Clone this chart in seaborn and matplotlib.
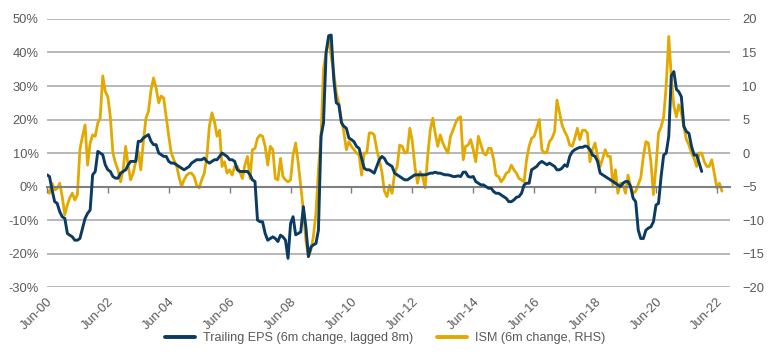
import matplotlib
matplotlib.use("Agg")
import matplotlib.pyplot as plt
import matplotlib.dates as mdates
from matplotlib.ticker import FuncFormatter
import pandas as pd
import seaborn as sns

# Trailing EPS, 6m change lagged 8m (%), monthly from Jun-00 (left axis)
eps_change = [
    3.5, 3, -1, -4.5, -5, -7.5, -9, -9.5, -14, -14.5, -15, -16, -16, -15.5, -12.5, -9.5, -8, -7,
    3.5, 4.5, 10.5, 10, 9.5, 6.5, 5, 4.5, 3, 2.5, 2.5, 4, 4.5, 5, 6.5, 7.5, 7.5, 7.5,
    13.5, 13.5, 14.5, 15, 15.5, 13.5, 12.5, 12.5, 10, 9.5, 9, 9, 7.5, 7, 7, 6.5, 6, 5.5,
    5, 5.5, 6, 7, 7.5, 8, 8, 8, 8.5, 7.5, 7, 7.5, 8, 8, 9, 10, 9.5, 9,
    8, 8, 7.5, 5, 4.5, 4.5, 4.5, 4.5, 3.5, 2, 1.5, -10, -10.5, -10.5, -14, -16, -15.5, -15,
    -15.5, -16.4, -14.5, -15, -16, -21.4, -11, -9, -14.4, -14, -13.5, -6, -12, -20.9, -18, -17.4, -17, -13,
    15, 19, 40, 45, 45.2, 32, 25, 24.4, 19, 18, 17.4, 14.5, 14, 13.4, 12, 11.4, 8.4, 5.5,
    5, 5, 4.5, 4, 6, 8, 9, 8.4, 7, 6.5, 6, 4, 3.5, 3, 2.5, 2, 2, 2.5,
    3, 3.5, 3.5, 3.5, 3.5, 3.5, 3.7, 4, 4, 4.3, 4, 4, 3.7, 3.5, 3.5, 3.3, 3, 3,
    3.2, 3, 4.3, 4.3, 3, 2.8, 3, 1.5, 1, 0.5, 0.5, 0, -0.5, -0.5, -1.5, -2, -2, -2.5,
    -3, -3.5, -4.5, -4.5, -4, -3.2, -3, -2, 0.5, 1, 1, 5, 5.5, 6, 7, 7.5, 7, 6.5,
    7, 6.5, 6, 5, 5, 5.5, 6.5, 6, 9, 10.4, 11, 11.4, 11.7, 11.7, 12.1, 11.9, 11, 9.4,
    9, 7.5, 4, 3.5, 3, 2.5, 2, 1.5, 1, 0.5, 0, 1, 1.5, 1.5, 0, -3.5, -4.5, -13,
    -15.5, -15.5, -13, -12.4, -12, -10.5, -5.5, -5, 3, 9.4, 10, 15, 33, 34.3, 29, 28.3, 26.8, 18,
    16.4, 15.9, 12, 9.4, 9.4, 7, 4.5,
]

# ISM, 6m change, monthly from Jun-00 (right axis)
ism_change = [
    -5.5, -6, -4.5, -5.5, -5.3, -4.5, -6.5, -9.2, -7.7, -6.7, -6, -7, -6.2, 0.5, 2.5, 4.2, -1.8, 1.5,
    2.7, 2.5, 4.5, 5.2, 11.5, 9.2, 8.4, 5.4, 0, -1.5, -2.5, -4.3, -2.5, 1, -2, -4, -3, -1.3,
    0.2, -2.5, 1.7, 5.2, 6.2, 9.4, 11.2, 9.7, 7.5, 8.5, 8.2, 5.4, 2.5, 0, -1, -1.8, -3.5, -5,
    -4, -3.3, -3, -3, -3.5, -4.8, -5.2, -4, -3, -0.5, 4, 6, 4.7, 2.5, 3.4, -2, -1.3, -3,
    -2.5, -3.3, -2, -2, -2.8, -3.8, -1.8, -0.5, -3.8, 0.5, 0.7, 2.2, 2.7, 2.5, 1, -1.8, 1, 0.5,
    -3.8, -4, -0.8, -3.5, -4, -4.3, -4, -0.3, 1.5, -1.5, -5, -8.5, -13, -15.4, -14.4, -12.5, -9, -2.5,
    2.5, 12.5, 15, 17.1, 14.4, 12, 9, 7.4, 5, 3.2, 0.5, 1.7, 1, 0.5, 0, -0.3, -3.3, 0,
    0, 3, 3, 2.7, 0.5, -1, -2.8, -5.7, -6.5, -4.8, -6, -3, -2, 1.2, 1, 0, 0.2, 3.7,
    1.7, -2, -4.5, -2.8, -3.5, -5.2, -0.5, 3.4, 5.2, 3, 1, 2.7, 1.5, 0.7, 0, 2.5, 3.4, 4.5,
    5.2, 5.4, -1, 1, 1.2, 2, 0.5, -1.3, 2.5, 1.2, 0, -0.3, 0.7, 0.7, -1, -3.3, -3.5, -4.3,
    -3.8, -3, -2.8, -1.8, -2.5, -3, -3.8, -4, -4.3, -1, 1, 2.2, 2.5, 3.7, 5, 0.5, 0, 0.2,
    1.7, 2.2, 3.2, 7.9, 6, 4.2, 3.2, 2.5, 1.2, 1, 2.2, 3.7, 2, 3.4, 3.4, 3, -1.3, 0.5,
    1.5, -0.5, -2, -0.8, 0.5, -0.5, -0.5, -4.8, -2.5, -6, -4.5, -4.7, -6, -3.3, -5, -6, -5.7, -4.7,
    -3.7, -0.5, 1.7, 1.5, -1.3, -6.2, -2, 3, 3.9, 5.4, 10, 17.4, 11.4, 7, 5.4, 7.2, 6, 3.9,
    2, 1.2, 0, -0.8, -2, 0, 0, -1.3, -2, -2, -1, -3, -5.2, -4.5, -5.7,
]

eps_label = "Trailing EPS (6m change, lagged 8m)"
ism_label = "ISM (6m change, RHS)"

NAVY = "#0B3A63"
GOLD = "#E2A900"
TEXT = "#595959"

eps_dates = pd.date_range("2000-06-01", periods=len(eps_change), freq="MS")
ism_dates = pd.date_range("2000-06-01", periods=len(ism_change), freq="MS")
tick_dates = pd.date_range("2000-06-01", "2022-06-01", freq="24MS")

sns.set_theme(style="white")
plt.rcParams["font.family"] = ["Liberation Sans", "DejaVu Sans"]

fig, ax = plt.subplots(figsize=(7.7, 3.58), dpi=100)
fig.subplots_adjust(left=0.061, right=0.948, top=0.947, bottom=0.198)
ax2 = ax.twinx()

sns.lineplot(x=ism_dates, y=ism_change, ax=ax2, color=GOLD, linewidth=2, legend=False)
sns.lineplot(x=eps_dates, y=eps_change, ax=ax, color=NAVY, linewidth=2.1, legend=False)

# blue line above the gold one, gridlines behind both
ax.set_zorder(ax2.get_zorder() + 1)
ax.patch.set_visible(False)

ax.set_ylim(-30, 50)
ax.set_yticks(range(-30, 51, 10))
ax.yaxis.set_major_formatter(FuncFormatter(lambda v, p: f"{v:.0f}%"))
ax2.set_ylim(-20, 20)
ax2.set_yticks(range(-20, 21, 5))
ax2.grid(axis="y", color="#ABABAB", linewidth=1.2)
ax2.set_axisbelow(True)

ax.set_xlim(pd.Timestamp("2000-06-01"), pd.Timestamp("2022-11-05"))
ax.set_xticks(tick_dates)
ax.xaxis.set_major_formatter(mdates.DateFormatter("%b-%y"))
for lbl in ax.get_xticklabels():
    lbl.set_rotation(45)
    lbl.set_ha("right")
    lbl.set_rotation_mode("anchor")

for a in (ax, ax2):
    for s in a.spines.values():
        s.set_visible(False)
    a.tick_params(axis="both", length=0, labelsize=9.3, labelcolor=TEXT)
    a.set_xlabel("")
    a.set_ylabel("")
ax.tick_params(axis="y", pad=6)
ax2.tick_params(axis="y", pad=9)
ax.tick_params(axis="x", pad=6)

# zero line with small tick marks
zero = ax.secondary_xaxis(0.375)
zero.set_xticks(tick_dates)
zero.tick_params(axis="x", direction="out", length=4, width=1, color="#7F7F7F", labelbottom=False)
zero.spines["bottom"].set_color("#7F7F7F")
zero.spines["bottom"].set_linewidth(1.5)

handles = [plt.Line2D([], [], color=NAVY, linewidth=2.8), plt.Line2D([], [], color=GOLD, linewidth=2.8)]
leg = fig.legend(handles, [eps_label, ism_label], loc="center", bbox_to_anchor=(0.5, 0.056),
                 ncol=2, frameon=False, fontsize=9.1, handlelength=2.4, columnspacing=1.9,
                 handletextpad=0.6)
for t in leg.get_texts():
    t.set_color(TEXT)

fig.savefig("out.png", dpi=100)
